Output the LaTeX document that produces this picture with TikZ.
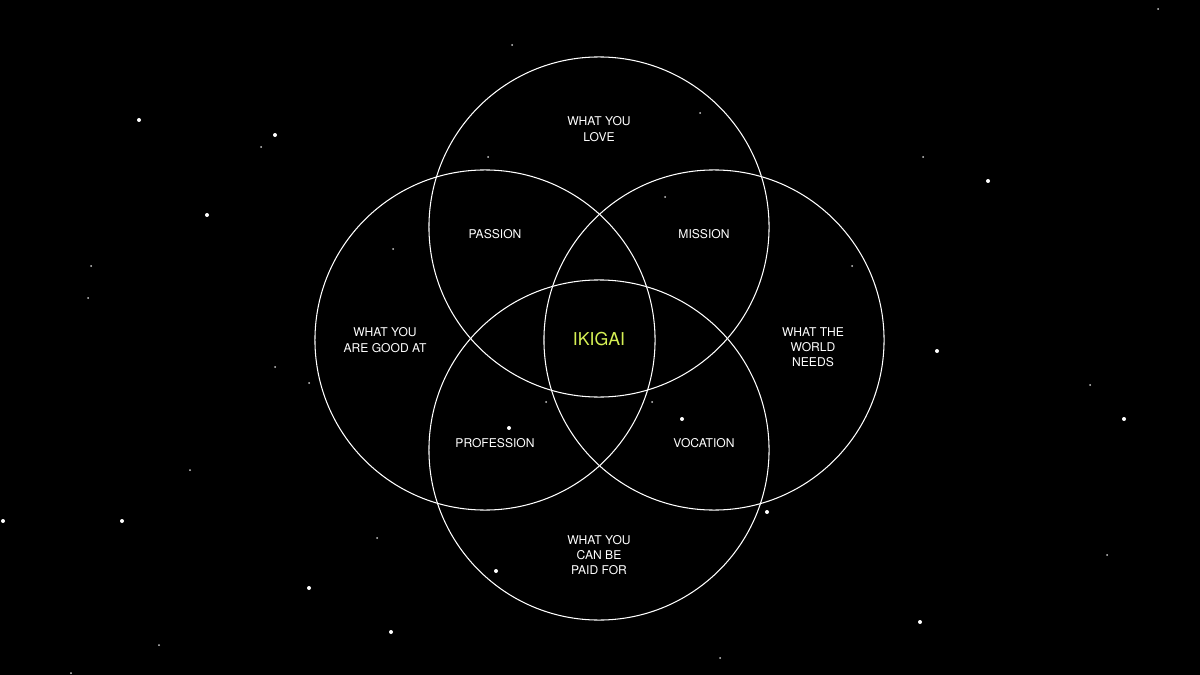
\documentclass[tikz,border=0pt]{standalone}
\usepackage{fontspec}
\setmainfont{TeX Gyre Heros}
\usepackage{tikz}

\definecolor{ikigaigreen}{RGB}{214,240,84}

\begin{document}
\begin{tikzpicture}[
    x=0.025cm, y=-0.025cm,
    ring/.style={circle, draw=white, line width=0.75pt, minimum size=8.5cm, inner sep=0pt},
    lbl/.style={text=white, align=center, font=\fontsize{8.6}{10.8}\selectfont},
    core/.style={text=ikigaigreen, font=\fontsize{12.6}{14}\selectfont},
    brightstar/.style={fill=white},
    dimstar/.style={fill=white!80!black}
]
    % background (fixes the page size)
    \fill[black] (0,0) rectangle (1200,675);
    \useasboundingbox (0,0) rectangle (1200,675);

    % stars
    \foreach \sx/\sy in {139/120, 275/135, 207/215, 988/181, 937/351, 3/521, 122/521,
                         309/588, 391/632, 1124/419, 920/622, 496/571, 509/428, 682/419, 767/512}
        \fill[brightstar] (\sx,\sy) circle (2);
    \foreach \sx/\sy in {261/147, 91/266, 88/298, 393/249, 1158/9, 923/157, 852/266,
                         309/383, 190/470, 377/538, 159/645, 71/673, 1090/385, 1107/555,
                         512/45, 700/113, 720/658, 546/402, 652/402, 488/157, 665/197, 275/367}
        \fill[dimstar] (\sx,\sy) circle (1);

    % the four circles
    \node[ring] (love)  at (599,227) {};
    \node[ring] (good)  at (485,340) {};
    \node[ring] (world) at (714,340) {};
    \node[ring] (paid)  at (599,450) {};

    % outer labels
    \node[lbl] (lovetxt)  at (599,129) {WHAT YOU\\LOVE};
    \node[lbl] (goodtxt)  at (385,340) {WHAT YOU\\ARE GOOD AT};
    \node[lbl] (worldtxt) at (813,347) {WHAT THE\\WORLD\\NEEDS};
    \node[lbl] (paidtxt)  at (599,555) {WHAT YOU\\CAN BE\\PAID FOR};

    % overlaps
    \node[lbl] (passion)    at (495,234) {PASSION};
    \node[lbl] (mission)    at (704,234) {MISSION};
    \node[lbl] (profession) at (495,443) {PROFESSION};
    \node[lbl] (vocation)   at (704,443) {VOCATION};

    % centre
    \node[core] (ikigai) at (599,339) {IKIGAI};
\end{tikzpicture}
\end{document}
